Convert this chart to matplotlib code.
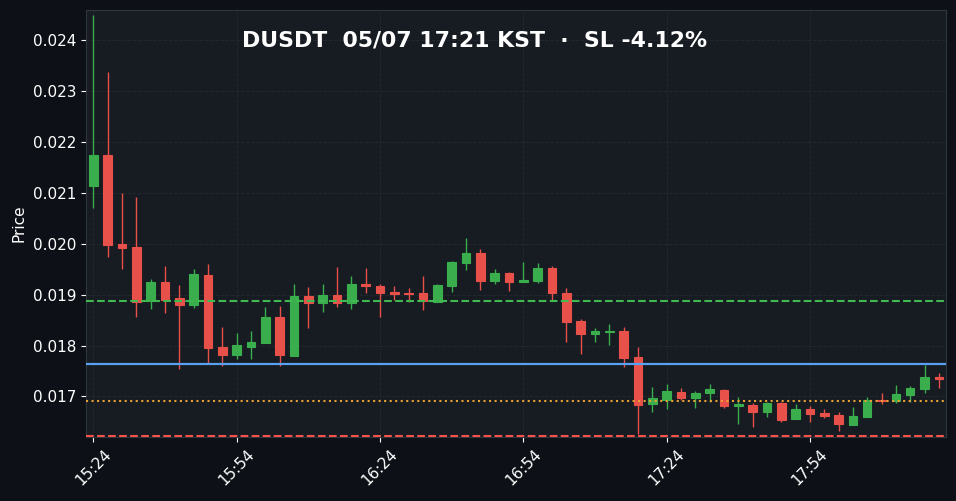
import matplotlib
matplotlib.use('Agg')
import matplotlib.pyplot as plt

# precios de cada vela (velas de 3 min, 15:24 en adelante)
opens = [.021139,.021743,.019994,.019935,.018874,.019248,.018933,.018802,.019385,.01797,
         .017813,.01797,.018049,.01856,.017794,.018972,.018829,.018992,.018829,.019208,
         .019169,.019051,.019031,.019031,.01886,.019169,.019627,.019817,.019267,.019418,
         .019248,.019267,.019523,.019031,.018481,.018226,.018271,.018285,.017774,.016851,
         .016929,.017086,.016969,.017067,.017126,.016811,.016831,.016694,.01687,.016556,
         .016752,.016674,.016635,.016438,.016595,.016929,.016904,.017028,.017145,.017381]
closes = [.021743,.01998,.019915,.01886,.019248,.018894,.018802,.019405,.017951,.017813,
          .01801,.018069,.01856,.017813,.018972,.018841,.018992,.018841,.019208,.019169,
          .019037,.019018,.019018,.018879,.019189,.01964,.019817,.019267,.019418,.019248,
          .019287,.019523,.019037,.018468,.018226,.018285,.018285,.017754,.016831,.016969,
          .017106,.016969,.017067,.017145,.016811,.016851,.016694,.01687,.016536,.016752,
          .016654,.016615,.016458,.016615,.016929,.016904,.017047,.017165,.017381,.017342]
highs = [.024493,.023387,.02099,.020923,.0193,.019568,.019194,.019497,.019595,.018369,
         .018251,.018291,.018762,.018782,.019202,.019155,.019202,.019548,.019371,.019517,
         .019202,.019175,.019136,.019371,.019202,.019654,.020106,.01989,.019497,.019438,
         .019635,.019615,.019556,.019136,.018515,.018338,.018416,.018369,.017976,.017191,
         .017238,.017159,.017112,.017238,.017139,.016998,.016876,.016884,.016884,.016857,
         .016817,.016747,.016688,.016786,.016982,.017061,.017218,.017198,.017617,.017454]
lows = [.020701,.019733,.019497,.018566,.018711,.018633,.017532,.018731,.017662,.017603,
        .017729,.017741,.018049,.017603,.017794,.018338,.018664,.018762,.018711,.019025,
        .018566,.018894,.018849,.018691,.01886,.019045,.019477,.019084,.019202,.019065,
        .019248,.019222,.018879,.018075,.017827,.018075,.018004,.017572,.016255,.016688,
        .016747,.016923,.016766,.016884,.016766,.016452,.016393,.016601,.016503,.016556,
        .016503,.016582,.016326,.016438,.016595,.016845,.016864,.016884,.017073,.017159]

tick_pos = [0, 10, 20, 30, 40, 50]
tick_labels = ['15:24', '15:54', '16:24', '16:54', '17:24', '17:54']
entry_line = 0.017637
tp_line = 0.018874
be_line = 0.01691
sl_line = 0.016222
title = 'DUSDT  05/07 17:21 KST  ·  SL -4.12%'

fig_bg = '#0d1117'
ax_bg = '#171b22'
up = '#3aad4d'
down = '#e8504a'

fig = plt.figure(figsize=(9.56, 5.01), dpi=100, facecolor=fig_bg)
ax = fig.add_axes([86.3/956, 1-437/501, 859.7/956, 427/501], facecolor=ax_bg)

for i in range(len(opens)):
    color = up if closes[i] >= opens[i] else down
    ax.vlines(i, lows[i], highs[i], color=color, linewidth=1.0, zorder=2)
    ax.bar(i, abs(closes[i]-opens[i]), bottom=min(opens[i], closes[i]), width=0.6,
           color=color, edgecolor=color, linewidth=0.8, zorder=3)

ax.axhline(tp_line, color='#3fb950', linestyle='--', linewidth=1.5, zorder=4)
ax.axhline(entry_line, color='#58a0f0', linestyle='-', linewidth=1.6, zorder=4)
ax.axhline(be_line, color='#e8a030', linestyle=':', linewidth=1.5, zorder=4)
ax.axhline(sl_line, color='#f85149', linestyle='--', linewidth=1.5, zorder=4)

ax.set_xlim(-0.5, 59.5)
ax.set_ylim(0.016202, 0.024597)
ax.set_xticks(tick_pos)
ax.set_xticklabels(tick_labels, rotation=45, ha='center')
ax.set_yticks([0.017, 0.018, 0.019, 0.020, 0.021, 0.022, 0.023, 0.024])
ax.tick_params(colors='white', labelsize=11)
ax.yaxis.set_major_formatter(matplotlib.ticker.FormatStrFormatter('%.3f'))
ax.grid(True, color='#23272f', linestyle='--', linewidth=0.7, zorder=0)
ax.set_axisbelow(True)
ax.set_ylabel('Price', color='white', fontsize=11, labelpad=5)
for s in ax.spines.values():
    s.set_color('#30363d')

fig.text(0.496, 1-41/501, title, color='white', fontsize=15.8, fontweight='bold', ha='center', va='center')

fig.savefig('out.png', dpi=100, facecolor=fig_bg)
